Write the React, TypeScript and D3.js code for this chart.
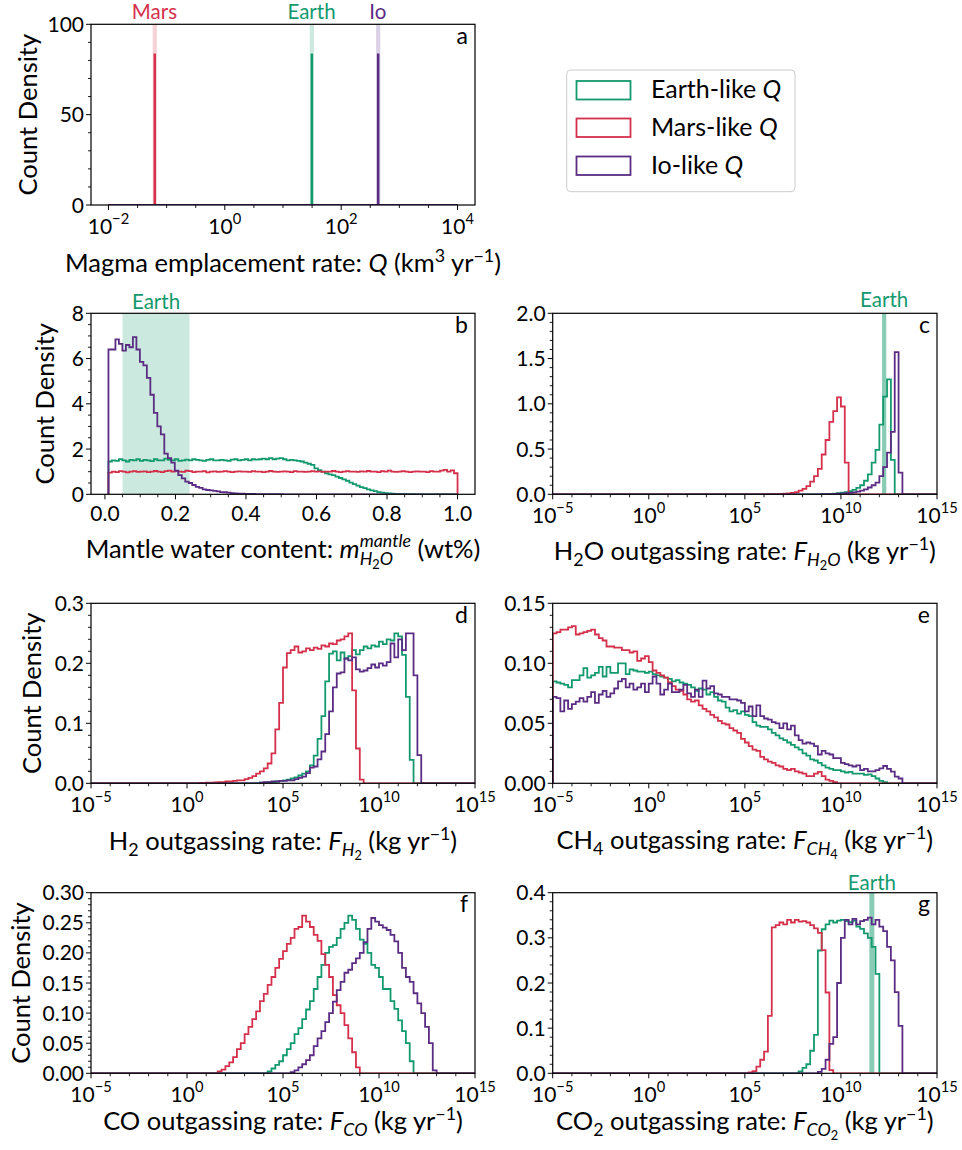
import React, { useEffect, useRef } from 'react';
import * as d3 from 'd3';

const GREEN = '#13996e';
const RED = '#d5304b';
const PURPLE = '#5b2c83';
const FONT = 'Lato, "DejaVu Sans", sans-serif';

// ---------------- DATA ----------------
const seriesNames = ['Earth-like Q', 'Mars-like Q', 'Io-like Q'];
const seriesColors = [GREEN, RED, PURPLE];

// Panel a: log10(Q) position of the single occupied bin, and its density
const aPlanets = ['Earth', 'Mars', 'Io'];
const aLogQ = [1.49, -1.21, 2.63];
const aDensity = [83.3, 83.3, 83.3];
const aBinWidth = 0.012;

// Panel b: mantle water content histograms (100 bins, 0.01..1.0 wt%)
const bEarth = [
  1.45, 1.5, 1.48, 1.55, 1.5, 1.45, 1.52, 1.5, 1.55, 1.48,
  1.52, 1.5, 1.47, 1.55, 1.5, 1.5, 1.58, 1.52, 1.5, 1.55,
  1.48, 1.5, 1.53, 1.5, 1.55, 1.52, 1.5, 1.48, 1.52, 1.55,
  1.5, 1.5, 1.52, 1.5, 1.48, 1.53, 1.55, 1.5, 1.52, 1.55,
  1.5, 1.55, 1.53, 1.55, 1.58, 1.55, 1.6, 1.55, 1.58, 1.6,
  1.55, 1.5, 1.52, 1.5, 1.48, 1.45, 1.4, 1.35, 1.3, 1.15,
  1.07, 1.0, 0.93, 0.88, 0.85, 0.78, 0.72, 0.66, 0.6, 0.52,
  0.45, 0.38, 0.32, 0.27, 0.22, 0.17, 0.14, 0.1, 0.075, 0.055,
  0.04, 0.03, 0.022, 0.016, 0.01, 0.007, 0.004, 0.002, 0.001, 0,
  0, 0, 0, 0, 0, 0, 0, 0, 0, 0,
];
const bMars = [
  0.96, 1.0, 0.98, 1.02, 1.0, 0.97, 1.0, 1.02, 0.99, 1.0,
  1.01, 0.98, 1.0, 1.03, 1.0, 0.98, 1.02, 1.05, 1.0, 1.03,
  1.0, 0.99, 1.04, 1.02, 0.98, 1.0, 1.0, 1.02, 0.97, 1.0,
  1.01, 0.99, 1.0, 1.02, 1.0, 0.98, 1.0, 1.01, 1.0, 1.0,
  0.99, 1.02, 1.0, 1.0, 0.98, 1.0, 1.03, 1.0, 0.99, 1.0,
  1.01, 1.0, 0.98, 1.02, 1.0, 1.0, 0.99, 1.0, 1.02, 1.0,
  1.01, 0.99, 1.0, 1.0, 1.03, 1.0, 0.98, 1.0, 1.02, 1.0,
  1.0, 0.99, 1.01, 1.0, 1.03, 1.0, 1.0, 0.98, 1.02, 1.0,
  1.05, 1.0, 0.99, 1.0, 1.02, 1.0, 0.98, 1.0, 1.01, 1.0,
  1.0, 0.98, 1.02, 1.0, 1.0, 1.05, 1.08, 1.0, 1.06, 0.93,
];
const bIo = [
  6.4, 6.4, 6.85, 6.65, 6.35, 6.6, 6.5, 6.95, 6.4, 5.85,
  5.7, 5.15, 4.4, 3.6, 3.0, 2.65, 1.8, 1.6, 1.4, 1.05,
  0.85, 0.7, 0.56, 0.5, 0.41, 0.33, 0.28, 0.22, 0.19, 0.17,
  0.15, 0.13, 0.1, 0.09, 0.07, 0.05, 0.04, 0.03, 0.025, 0.02,
  0.02, 0.015, 0.01, 0.01, 0.008, 0.005, 0.005, 0.003, 0.002, 0.002,
  0, 0, 0, 0, 0, 0, 0, 0, 0, 0,
  0, 0, 0, 0, 0, 0, 0, 0, 0, 0,
  0, 0, 0, 0, 0, 0, 0, 0, 0, 0,
  0, 0, 0, 0, 0, 0, 0, 0, 0, 0,
  0, 0, 0, 0, 0, 0, 0, 0, 0, 0,
];
const bEarthRange = [0.05, 0.24];

// Log panels: 100 bins of 0.2 decades from 1e-5 to 1e15; non-zero part starts at given bin
const cEarthStart = 70;
const cEarth = [0.002, 0.003, 0.005, 0.008, 0.012, 0.018, 0.025, 0.035, 0.05, 0.07, 0.1, 0.15, 0.22, 0.35, 0.49, 0.77, 1.08, 1.27, 0.38];
const cMarsStart = 56;
const cMars = [0.001, 0.002, 0.003, 0.004, 0.006, 0.01, 0.015, 0.025, 0.04, 0.06, 0.09, 0.14, 0.2, 0.28, 0.44, 0.6, 0.8, 0.92, 1.07, 0.97, 0.35];
const cIoStart = 70;
const cIo = [0.001, 0.002, 0.003, 0.004, 0.006, 0.008, 0.012, 0.016, 0.022, 0.03, 0.04, 0.055, 0.075, 0.1, 0.13, 0.2, 0.3, 0.46, 0.69, 1.57, 0.24];
const cEarthRange = [12.14, 12.36];

const dEarthStart = 44;
const dEarth = [0.001, 0.001, 0.002, 0.002, 0.003, 0.004, 0.005, 0.006, 0.008, 0.01, 0.013, 0.016, 0.02, 0.03, 0.046, 0.074, 0.112, 0.17, 0.216, 0.22, 0.205, 0.218, 0.208, 0.212, 0.222, 0.215, 0.222, 0.228, 0.225, 0.23, 0.228, 0.236, 0.232, 0.24, 0.238, 0.25, 0.245, 0.214, 0.144, 0.039];
const dMarsStart = 28;
const dMars = [0.0005, 0.0007, 0.001, 0.001, 0.0015, 0.002, 0.002, 0.003, 0.003, 0.004, 0.005, 0.005, 0.007, 0.009, 0.012, 0.016, 0.02, 0.025, 0.033, 0.05, 0.09, 0.134, 0.193, 0.217, 0.222, 0.228, 0.218, 0.22, 0.225, 0.222, 0.226, 0.224, 0.23, 0.228, 0.233, 0.232, 0.238, 0.24, 0.245, 0.25, 0.155, 0.058, 0.006];
const dIoStart = 44;
const dIo = [0.001, 0.002, 0.002, 0.003, 0.003, 0.004, 0.004, 0.005, 0.005, 0.007, 0.009, 0.011, 0.017, 0.026, 0.028, 0.04, 0.053, 0.082, 0.12, 0.16, 0.183, 0.185, 0.208, 0.205, 0.21, 0.19, 0.186, 0.188, 0.192, 0.198, 0.193, 0.2, 0.196, 0.202, 0.233, 0.21, 0.24, 0.222, 0.25, 0.25, 0.18, 0.047];

const eEarthStart = 0;
const eEarth = [
  0.085, 0.084, 0.083, 0.082, 0.08, 0.086, 0.086, 0.09, 0.096, 0.088, 0.09, 0.092, 0.097, 0.089, 0.097, 0.092, 0.092, 0.1, 0.1, 0.091,
  0.095, 0.094, 0.093, 0.093, 0.092, 0.093, 0.091, 0.09, 0.089, 0.088, 0.087, 0.085, 0.086, 0.084, 0.083, 0.082, 0.08, 0.077, 0.079, 0.078,
  0.074, 0.076, 0.072, 0.069, 0.068, 0.063, 0.06, 0.061, 0.058, 0.06, 0.057, 0.056, 0.051, 0.048, 0.047, 0.047, 0.045, 0.042, 0.04, 0.0375,
  0.036, 0.034, 0.032, 0.03, 0.028, 0.025, 0.023, 0.02, 0.019, 0.017, 0.015, 0.013, 0.012, 0.011, 0.011, 0.01, 0.009, 0.0095, 0.008, 0.008,
  0.008, 0.007, 0.0075, 0.006, 0.004, 0.002, 0.001,
];
const eMarsStart = 0;
const eMars = [
  0.125, 0.126, 0.128, 0.128, 0.13, 0.131, 0.124, 0.125, 0.126, 0.127, 0.128, 0.124, 0.121, 0.119, 0.114, 0.114, 0.113, 0.113, 0.111, 0.111,
  0.109, 0.11, 0.102, 0.104, 0.106, 0.101, 0.094, 0.092, 0.09, 0.088, 0.084, 0.081, 0.078, 0.077, 0.074, 0.07, 0.068, 0.069, 0.065, 0.062,
  0.06, 0.057, 0.055, 0.052, 0.05, 0.049, 0.046, 0.044, 0.042, 0.037, 0.034, 0.031, 0.028, 0.027, 0.022, 0.02, 0.018, 0.017, 0.015, 0.014,
  0.012, 0.011, 0.012, 0.01, 0.009, 0.008, 0.006, 0.006, 0.008, 0.0095, 0.006, 0.003, 0.002, 0.001,
];
const eIoStart = 0;
const eIo = [
  0.072, 0.071, 0.06, 0.069, 0.062, 0.066, 0.068, 0.071, 0.068, 0.072, 0.076, 0.067, 0.074, 0.077, 0.072, 0.075, 0.079, 0.085, 0.087, 0.08,
  0.083, 0.078, 0.08, 0.083, 0.076, 0.083, 0.089, 0.083, 0.074, 0.078, 0.083, 0.076, 0.076, 0.078, 0.082, 0.075, 0.072, 0.078, 0.072, 0.0855,
  0.079, 0.081, 0.075, 0.074, 0.072, 0.072, 0.07, 0.07, 0.069, 0.067, 0.06, 0.064, 0.056, 0.065, 0.056, 0.054, 0.053, 0.051, 0.05, 0.046,
  0.05, 0.045, 0.048, 0.04, 0.036, 0.033, 0.034, 0.033, 0.031, 0.024, 0.027, 0.025, 0.024, 0.021, 0.021, 0.017, 0.016, 0.015, 0.014, 0.015,
  0.011, 0.012, 0.01, 0.01, 0.011, 0.0125, 0.0144, 0.012, 0.0097, 0.0056, 0.004,
];

const fEarthStart = 46;
const fEarth = [0.003, 0.008, 0.014, 0.02, 0.03, 0.04, 0.05, 0.065, 0.075, 0.09, 0.106, 0.12, 0.14, 0.16, 0.18, 0.2, 0.21, 0.213, 0.225, 0.24, 0.25, 0.262, 0.255, 0.24, 0.222, 0.215, 0.2, 0.18, 0.175, 0.16, 0.14, 0.14, 0.12, 0.107, 0.088, 0.07, 0.05, 0.02];
const fMarsStart = 33;
const fMars = [0.003, 0.006, 0.012, 0.018, 0.027, 0.04, 0.05, 0.065, 0.077, 0.09, 0.103, 0.12, 0.132, 0.147, 0.16, 0.175, 0.19, 0.203, 0.215, 0.225, 0.24, 0.243, 0.262, 0.252, 0.243, 0.23, 0.22, 0.198, 0.18, 0.16, 0.13, 0.113, 0.1, 0.08, 0.058, 0.035, 0.01];
const fIoStart = 52;
const fIo = [0.002, 0.005, 0.01, 0.015, 0.022, 0.03, 0.045, 0.058, 0.07, 0.085, 0.1, 0.119, 0.138, 0.152, 0.167, 0.172, 0.183, 0.191, 0.2, 0.218, 0.24, 0.258, 0.252, 0.246, 0.242, 0.238, 0.23, 0.219, 0.2, 0.175, 0.16, 0.152, 0.133, 0.116, 0.1, 0.077, 0.05, 0.005];

const gEarthStart = 64;
const gEarth = [0.004, 0.012, 0.02, 0.05, 0.085, 0.272, 0.319, 0.33, 0.338, 0.334, 0.338, 0.34, 0.337, 0.335, 0.338, 0.325, 0.32, 0.31, 0.3, 0.28, 0.22];
const gMarsStart = 51;
const gMars = [0.002, 0.005, 0.015, 0.03, 0.048, 0.127, 0.323, 0.328, 0.334, 0.33, 0.34, 0.334, 0.34, 0.336, 0.337, 0.334, 0.328, 0.321, 0.311, 0.273, 0.179, 0.007];
const gIoStart = 69;
const gIo = [0.003, 0.01, 0.03, 0.065, 0.08, 0.2, 0.3, 0.34, 0.33, 0.342, 0.33, 0.337, 0.34, 0.345, 0.33, 0.34, 0.325, 0.315, 0.28, 0.25, 0.18, 0.105];
const gEarthRange = [11.48, 11.74];

// ---------------- HELPERS ----------------
const N_LOG_BINS = 100;
const LOG_MIN = -5;
const LOG_BIN = 0.2;
const logEdges = d3.range(N_LOG_BINS + 1).map((i) => LOG_MIN + LOG_BIN * i);
function fullBins(start: number, vals: number[]): number[] {
  const out = new Array(N_LOG_BINS).fill(0);
  vals.forEach((v, i) => {
    if (start + i < N_LOG_BINS) out[start + i] = v;
  });
  return out;
}
const bEdges = d3.range(101).map((i) => 0.01 + 0.0099 * i);

function stepPoints(edges: number[], vals: number[]): [number, number][] {
  const pts: [number, number][] = [[edges[0], 0]];
  vals.forEach((v, i) => {
    pts.push([edges[i], v]);
    pts.push([edges[i + 1], v]);
  });
  pts.push([edges[edges.length - 1], 0]);
  return pts;
}

type Seg = { t?: string; it?: boolean; s?: number; dy?: number; stack?: [Seg[], Seg[]] };
const SUP = (t: string): Seg => ({ t, s: 0.7, dy: -0.38 });
const SUB = (t: string, it = false): Seg => ({ t, s: 0.7, dy: 0.25, it });
const SUBSUB = (t: string): Seg => ({ t, s: 0.5, dy: 0.4 });

function drawRich(parent: any, segs: Seg[], size: number, fill: string) {
  const g = parent.append('g');
  const place = (list: Seg[], startX: number): number => {
    let cx = startX;
    for (const seg of list) {
      if (seg.stack) {
        const e1 = place(seg.stack[0], cx);
        const e2 = place(seg.stack[1], cx);
        cx = Math.max(e1, e2);
      } else {
        const fs = size * (seg.s ?? 1);
        const t = g
          .append('text')
          .attr('x', cx)
          .attr('y', (seg.dy ?? 0) * size)
          .attr('font-size', fs)
          .attr('font-style', seg.it ? 'italic' : 'normal')
          .attr('fill', fill)
          .text((seg.t || '').replace(/ /g, '\u00A0'));
        cx += (t.node() as SVGTextElement).getComputedTextLength();
      }
    }
    return cx;
  };
  const w = place(segs, 0);
  return { g, w };
}

const LABEL_SIZE = 25.5;
const TICK_SIZE = 21;

const kgyr = (): Seg[] => [{ t: ' (kg yr' }, SUP('−1'), { t: ')' }];

interface Band { lo: number; hi: number; color: string; opacity: number; label?: string; labelY?: number; labelAt?: number }
interface Panel {
  id: string; x0: number; x1: number; y0: number; y1: number;
  xDomain: [number, number]; yDomain: [number, number];
  xMajor: number[]; xMinorStep: number; xLog: boolean;
  yMajor: number[]; yMinorStep: number; yFmt: (v: number) => string;
  series: { color: string; edges: number[]; values: number[] }[];
  bands: Band[];
  xlabel: Seg[]; xlabelY: number; ylabelX?: number;
}

const LX0 = 91, LX1 = 475, RX0 = 552.7, RX1 = 937;

const panels: Panel[] = [
  {
    id: 'a', x0: LX0, x1: LX1, y0: 24.3, y1: 205,
    xDomain: [-2.3, 4.3], yDomain: [0, 100], xMajor: [-2, 0, 2, 4], xMinorStep: 0.5, xLog: true,
    yMajor: [0, 50, 100], yMinorStep: 10, yFmt: d3.format('d'),
    series: aLogQ.map((q, i) => ({ color: seriesColors[i], edges: [-2, q, q + aBinWidth, 4], values: [0, aDensity[i], 0] })),
    bands: aLogQ.map((q, i) => ({ lo: q - 0.03, hi: q + aBinWidth + 0.03, color: seriesColors[i], opacity: 0.22, label: aPlanets[i], labelY: 18.5, labelAt: q })),
    xlabel: [{ t: 'Magma emplacement rate: ' }, { t: 'Q', it: true }, { t: ' (km' }, SUP('3'), { t: ' yr' }, SUP('−1'), { t: ')' }],
    xlabelY: 272, ylabelX: 36.5,
  },
  {
    id: 'b', x0: LX0, x1: LX1, y0: 313.3, y1: 494.3,
    xDomain: [-0.0395, 1.0495], yDomain: [0, 8], xMajor: [0, 0.2, 0.4, 0.6, 0.8, 1.0], xMinorStep: 0.05, xLog: false,
    yMajor: [0, 2, 4, 6, 8], yMinorStep: 0.5, yFmt: d3.format('d'),
    series: [bEarth, bMars, bIo].map((v, i) => ({ color: seriesColors[i], edges: bEdges, values: v })),
    bands: [{ lo: bEarthRange[0], hi: bEarthRange[1], color: GREEN, opacity: 0.22, label: 'Earth', labelY: 309 }],
    xlabel: [
      { t: 'Mantle water content: ' }, { t: 'm', it: true },
      { stack: [[{ t: 'mantle', it: true, s: 0.7, dy: -0.45 }], [{ t: 'H', it: true, s: 0.7, dy: 0.27 }, { t: '2', s: 0.5, dy: 0.42 }, { t: 'O', it: true, s: 0.7, dy: 0.27 }]] },
      { t: ' (wt%)' },
    ],
    xlabelY: 558, ylabelX: 53.5,
  },
  {
    id: 'c', x0: RX0, x1: RX1, y0: 313.3, y1: 494.3,
    xDomain: [-5, 15], yDomain: [0, 2], xMajor: [-5, 0, 5, 10, 15], xMinorStep: 1, xLog: true,
    yMajor: [0, 0.5, 1, 1.5, 2], yMinorStep: 0.1, yFmt: d3.format('.1f'),
    series: [[cEarthStart, cEarth], [cMarsStart, cMars], [cIoStart, cIo]].map(([s, v]: any, i) => ({ color: seriesColors[i], edges: logEdges, values: fullBins(s, v) })),
    bands: [{ lo: cEarthRange[0], hi: cEarthRange[1], color: GREEN, opacity: 0.5, label: 'Earth', labelY: 306.5 }],
    xlabel: [{ t: 'H' }, SUB('2'), { t: 'O outgassing rate: ' }, { t: 'F', it: true }, SUB('H', true), SUBSUB('2'), SUB('O', true), ...kgyr()],
    xlabelY: 560,
  },
  {
    id: 'd', x0: LX0, x1: LX1, y0: 603.3, y1: 783.3,
    xDomain: [-5, 15], yDomain: [0, 0.3], xMajor: [-5, 0, 5, 10, 15], xMinorStep: 1, xLog: true,
    yMajor: [0, 0.1, 0.2, 0.3], yMinorStep: 0.02, yFmt: d3.format('.1f'),
    series: [[dEarthStart, dEarth], [dMarsStart, dMars], [dIoStart, dIo]].map(([s, v]: any, i) => ({ color: seriesColors[i], edges: logEdges, values: fullBins(s, v) })),
    bands: [],
    xlabel: [{ t: 'H' }, SUB('2'), { t: ' outgassing rate: ' }, { t: 'F', it: true }, SUB('H', true), SUBSUB('2'), ...kgyr()],
    xlabelY: 850, ylabelX: 41,
  },
  {
    id: 'e', x0: RX0, x1: RX1, y0: 603.3, y1: 783.3,
    xDomain: [-5, 15], yDomain: [0, 0.15], xMajor: [-5, 0, 5, 10, 15], xMinorStep: 1, xLog: true,
    yMajor: [0, 0.05, 0.1, 0.15], yMinorStep: 0.01, yFmt: d3.format('.2f'),
    series: [[eEarthStart, eEarth], [eMarsStart, eMars], [eIoStart, eIo]].map(([s, v]: any, i) => ({ color: seriesColors[i], edges: logEdges, values: fullBins(s, v) })),
    bands: [],
    xlabel: [{ t: 'CH' }, SUB('4'), { t: ' outgassing rate: ' }, { t: 'F', it: true }, SUB('CH', true), SUBSUB('4'), ...kgyr()],
    xlabelY: 848.5,
  },
  {
    id: 'f', x0: LX0, x1: LX1, y0: 892.7, y1: 1073.3,
    xDomain: [-5, 15], yDomain: [0, 0.3], xMajor: [-5, 0, 5, 10, 15], xMinorStep: 1, xLog: true,
    yMajor: [0, 0.05, 0.1, 0.15, 0.2, 0.25, 0.3], yMinorStep: 0.01, yFmt: d3.format('.2f'),
    series: [[fEarthStart, fEarth], [fMarsStart, fMars], [fIoStart, fIo]].map(([s, v]: any, i) => ({ color: seriesColors[i], edges: logEdges, values: fullBins(s, v) })),
    bands: [],
    xlabel: [{ t: 'CO outgassing rate: ' }, { t: 'F', it: true }, SUB('CO', true), ...kgyr()],
    xlabelY: 1130, ylabelX: 30,
  },
  {
    id: 'g', x0: RX0, x1: RX1, y0: 892.7, y1: 1073.3,
    xDomain: [-5, 15], yDomain: [0, 0.4], xMajor: [-5, 0, 5, 10, 15], xMinorStep: 1, xLog: true,
    yMajor: [0, 0.1, 0.2, 0.3, 0.4], yMinorStep: 0.02, yFmt: d3.format('.1f'),
    series: [[gEarthStart, gEarth], [gMarsStart, gMars], [gIoStart, gIo]].map(([s, v]: any, i) => ({ color: seriesColors[i], edges: logEdges, values: fullBins(s, v) })),
    bands: [{ lo: gEarthRange[0], hi: gEarthRange[1], color: GREEN, opacity: 0.5, label: 'Earth', labelY: 890 }],
    xlabel: [{ t: 'CO' }, SUB('2'), { t: ' outgassing rate: ' }, { t: 'F', it: true }, SUB('CO', true), SUBSUB('2'), ...kgyr()],
    xlabelY: 1130,
  },
];

function minorTicks(domain: [number, number], step: number, majors: number[]): number[] {
  const start = Math.ceil(domain[0] / step - 1e-9) * step;
  const out: number[] = [];
  for (let v = start; v <= domain[1] + 1e-9; v += step) {
    const r = Math.round(v / step) * step;
    if (!majors.some((m) => Math.abs(m - r) < step / 10)) out.push(r);
  }
  return out;
}

function drawPanel(svg: any, p: Panel) {
  const x = d3.scaleLinear().domain(p.xDomain).range([p.x0, p.x1]);
  const y = d3.scaleLinear().domain(p.yDomain).range([p.y1, p.y0]);
  const g = svg.append('g');
  const clipId = `clip-${p.id}`;
  g.append('clipPath').attr('id', clipId).append('rect')
    .attr('x', p.x0).attr('y', p.y0).attr('width', p.x1 - p.x0).attr('height', p.y1 - p.y0);
  const plot = g.append('g').attr('clip-path', `url(#${clipId})`);

  // bands
  p.bands.forEach((b) => {
    plot.append('rect')
      .attr('x', x(b.lo)).attr('y', p.y0)
      .attr('width', Math.max(1, x(b.hi) - x(b.lo))).attr('height', p.y1 - p.y0)
      .attr('fill', b.color).attr('fill-opacity', b.opacity);
    if (b.label) {
      g.append('text')
        .attr('x', x(b.labelAt ?? (b.lo + b.hi) / 2)).attr('y', b.labelY ?? p.y0 - 5)
        .attr('text-anchor', 'middle').attr('font-size', 20.5).attr('fill', b.color)
        .text(b.label);
    }
  });

  // histograms
  const line = d3.line<[number, number]>().x((d) => x(d[0])).y((d) => y(d[1]));
  p.series.forEach((s) => {
    plot.append('path')
      .attr('d', line(stepPoints(s.edges, s.values)))
      .attr('fill', 'none').attr('stroke', s.color).attr('stroke-width', 1.8)
      .attr('stroke-linejoin', 'miter');
  });

  // spines
  g.append('rect')
    .attr('x', p.x0).attr('y', p.y0).attr('width', p.x1 - p.x0).attr('height', p.y1 - p.y0)
    .attr('fill', 'none').attr('stroke', '#000').attr('stroke-width', 1.2);

  const MAJ = 5, MIN = 3;
  // x ticks
  p.xMajor.forEach((v) => {
    g.append('line').attr('x1', x(v)).attr('x2', x(v)).attr('y1', p.y1).attr('y2', p.y1 + MAJ).attr('stroke', '#000').attr('stroke-width', 1);
    if (p.xLog) {
      const exp = v < 0 ? `−${Math.abs(v)}` : `${v}`;
      const { g: tg, w } = drawRich(g, [{ t: '10' }, { t: exp, s: 0.7, dy: -0.45 }], TICK_SIZE, '#000');
      tg.attr('transform', `translate(${x(v) - w / 2},${p.y1 + 28.5})`);
    } else {
      g.append('text').attr('x', x(v)).attr('y', p.y1 + 26.5).attr('text-anchor', 'middle')
        .attr('font-size', TICK_SIZE).text(d3.format('.1f')(v));
    }
  });
  minorTicks(p.xDomain, p.xMinorStep, p.xMajor).forEach((v) => {
    g.append('line').attr('x1', x(v)).attr('x2', x(v)).attr('y1', p.y1).attr('y2', p.y1 + MIN).attr('stroke', '#000').attr('stroke-width', 0.9);
  });
  // y ticks
  p.yMajor.forEach((v) => {
    g.append('line').attr('x1', p.x0 - MAJ).attr('x2', p.x0).attr('y1', y(v)).attr('y2', y(v)).attr('stroke', '#000').attr('stroke-width', 1);
    g.append('text').attr('x', p.x0 - 7).attr('y', y(v)).attr('dy', '0.36em').attr('text-anchor', 'end')
      .attr('font-size', TICK_SIZE).text(p.yFmt(v));
  });
  minorTicks(p.yDomain, p.yMinorStep, p.yMajor).forEach((v) => {
    g.append('line').attr('x1', p.x0 - MIN).attr('x2', p.x0).attr('y1', y(v)).attr('y2', y(v)).attr('stroke', '#000').attr('stroke-width', 0.9);
  });

  // panel letter
  g.append('text').attr('x', p.x1 - 7).attr('y', p.y0 + 19.5).attr('text-anchor', 'end')
    .attr('font-size', 23).text(p.id);

  // x label
  const { g: lg, w } = drawRich(g, p.xlabel, LABEL_SIZE, '#000');
  lg.attr('transform', `translate(${(p.x0 + p.x1) / 2 - w / 2},${p.xlabelY})`);

  // y label
  if (p.ylabelX !== undefined) {
    const yc = (p.y0 + p.y1) / 2;
    g.append('text').attr('transform', `translate(${p.ylabelX},${yc}) rotate(-90)`)
      .attr('text-anchor', 'middle').attr('font-size', LABEL_SIZE).text('Count Density');
  }
}

function drawLegend(svg: any) {
  const g = svg.append('g');
  g.append('rect').attr('x', 566.7).attr('y', 70).attr('width', 228.3).attr('height', 121.7)
    .attr('rx', 4).attr('fill', '#fff').attr('stroke', '#cccccc').attr('stroke-width', 1);
  const rowY = [81, 118.5, 156.5];
  seriesNames.forEach((name, i) => {
    g.append('rect').attr('x', 576.5).attr('y', rowY[i]).attr('width', 54).attr('height', 18.5)
      .attr('fill', 'none').attr('stroke', seriesColors[i]).attr('stroke-width', 1.8);
    const base = name.replace(' Q', ' ');
    const { g: tg } = drawRich(g, [{ t: base }, { t: 'Q', it: true }], 25, '#000');
    tg.attr('transform', `translate(651,${rowY[i] + 17})`);
  });
}

export default function App() {
  const ref = useRef<SVGSVGElement>(null);
  useEffect(() => {
    const svg = d3.select(ref.current);
    svg.selectAll('*').remove();
    svg.append('rect').attr('width', 962).attr('height', 1150).attr('fill', '#fff');
    panels.forEach((p) => drawPanel(svg, p));
    drawLegend(svg);
  }, []);
  return (
    <svg
      ref={ref}
      width={962}
      height={1150}
      style={{ position: 'absolute', left: 0, top: 0, fontFamily: FONT }}
    />
  );
}
